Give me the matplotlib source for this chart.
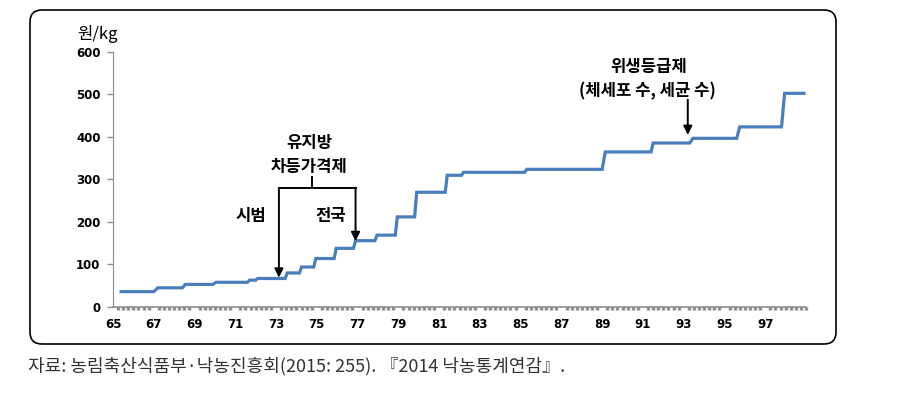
import matplotlib.pyplot as plt
import matplotlib as mpl
from matplotlib.patches import FancyBboxPatch
from matplotlib.ticker import MultipleLocator

plt.rcParams['font.family'] = ['Noto Sans CJK KR', 'DejaVu Sans']

# Price steps: (start year, end year, won/kg)
step_start = [65.4, 67.2, 68.55, 70.05, 71.7, 72.1, 73.55, 74.25, 74.95, 75.95, 76.9,
              77.95, 78.95, 79.9, 81.4, 82.2, 85.3, 89.15, 91.5, 93.45, 95.75, 97.95]
step_end = [67.0, 68.4, 69.9, 71.6, 72.0, 73.45, 74.15, 74.85, 75.85, 76.8, 77.85,
            78.85, 79.8, 81.3, 82.1, 85.2, 89.0, 91.4, 93.3, 95.6, 97.8, 98.9]
step_value = [35, 44, 52, 57, 62, 66, 79, 93, 113, 137, 155,
              168, 211, 269, 309, 316, 323, 364, 385, 396, 423, 502]

x_ticks = list(range(65, 98, 2))
y_ticks = [0, 100, 200, 300, 400, 500, 600]

line_x, line_y = [], []
for s, e, v in zip(step_start, step_end, step_value):
    line_x += [s, e]
    line_y += [v, v]

W, H = 897, 404
fig = plt.figure(figsize=(W / 100, H / 100), dpi=100)

# rounded frame around the chart
frame = FancyBboxPatch((30, H - 344), 806, 334,
                       boxstyle="round,pad=0,rounding_size=12",
                       transform=mpl.transforms.IdentityTransform(),
                       fc="none", ec="black", lw=1.2, zorder=0)
fig.patches.append(frame)

ax = fig.add_axes([113 / W, 1 - 306.5 / H, (806 - 113) / W, (306.5 - 51.7) / H])
ax.patch.set_alpha(0)
ax.plot(line_x, line_y, color="#4a7ebb", lw=2.3, solid_joinstyle="miter", zorder=3)

ax.set_xlim(65, 99)
ax.set_ylim(0, 600)
ax.set_xticks(x_ticks)
ax.set_xticklabels([str(t) for t in x_ticks], fontsize=8.5, fontweight="bold",
                   family="DejaVu Sans")
ax.set_yticks(y_ticks)
ax.set_yticklabels([str(t) for t in y_ticks], fontsize=8.5, fontweight="bold",
                   family="DejaVu Sans")
ax.xaxis.set_minor_locator(MultipleLocator(0.25))
ax.tick_params(axis="x", which="major", length=0, pad=8)
ax.tick_params(axis="x", which="minor", length=2.5, width=2.4, color="#8c8c8c")
ax.tick_params(axis="y", length=4, color="#8c8c8c", width=1, pad=5)
for side in ["top", "right"]:
    ax.spines[side].set_visible(False)
ax.spines["left"].set_color("#8c8c8c")
ax.spines["bottom"].set_color("#8c8c8c")
ax.spines["bottom"].set_linewidth(1.2)

txt = dict(fontsize=12, fontweight="bold", ha="center", va="center", color="black")
arr = dict(arrowstyle="-|>", color="black", lw=1.4, mutation_scale=13, shrinkA=0, shrinkB=0)

# 유지방 차등가격제 bracket
ax.text(74.66, 385, "유지방", **txt)
ax.text(74.6, 328, "차등가격제", **txt)
ax.plot([73.14, 76.9], [279, 279], color="black", lw=1.4)
ax.plot([74.75, 74.75], [279, 305], color="black", lw=1.4)
ax.annotate("", xy=(73.14, 68), xytext=(73.14, 279), arrowprops=arr)
ax.annotate("", xy=(76.9, 154), xytext=(76.9, 279), arrowprops=arr)
ax.text(71.75, 213, "시범", **txt)
ax.text(75.7, 213, "전국", **txt)

# 위생등급제
ax.text(91.3, 563, "위생등급제", **txt)
ax.text(91.2, 507, "(체세포 수, 세균 수)", **txt)
ax.annotate("", xy=(93.2, 404), xytext=(93.2, 487), arrowprops=arr)

fig.text(97 / W, 1 - 34 / H, "원/kg", fontsize=12, ha="center", va="center")
fig.text(28 / W, 1 - 366 / H, "자료: 농림축산식품부·낙농진흥회(2015: 255). 『2014 낙농통계연감』.",
         fontsize=13, ha="left", va="center", color="#333333")

fig.savefig("out.png", dpi=100)
